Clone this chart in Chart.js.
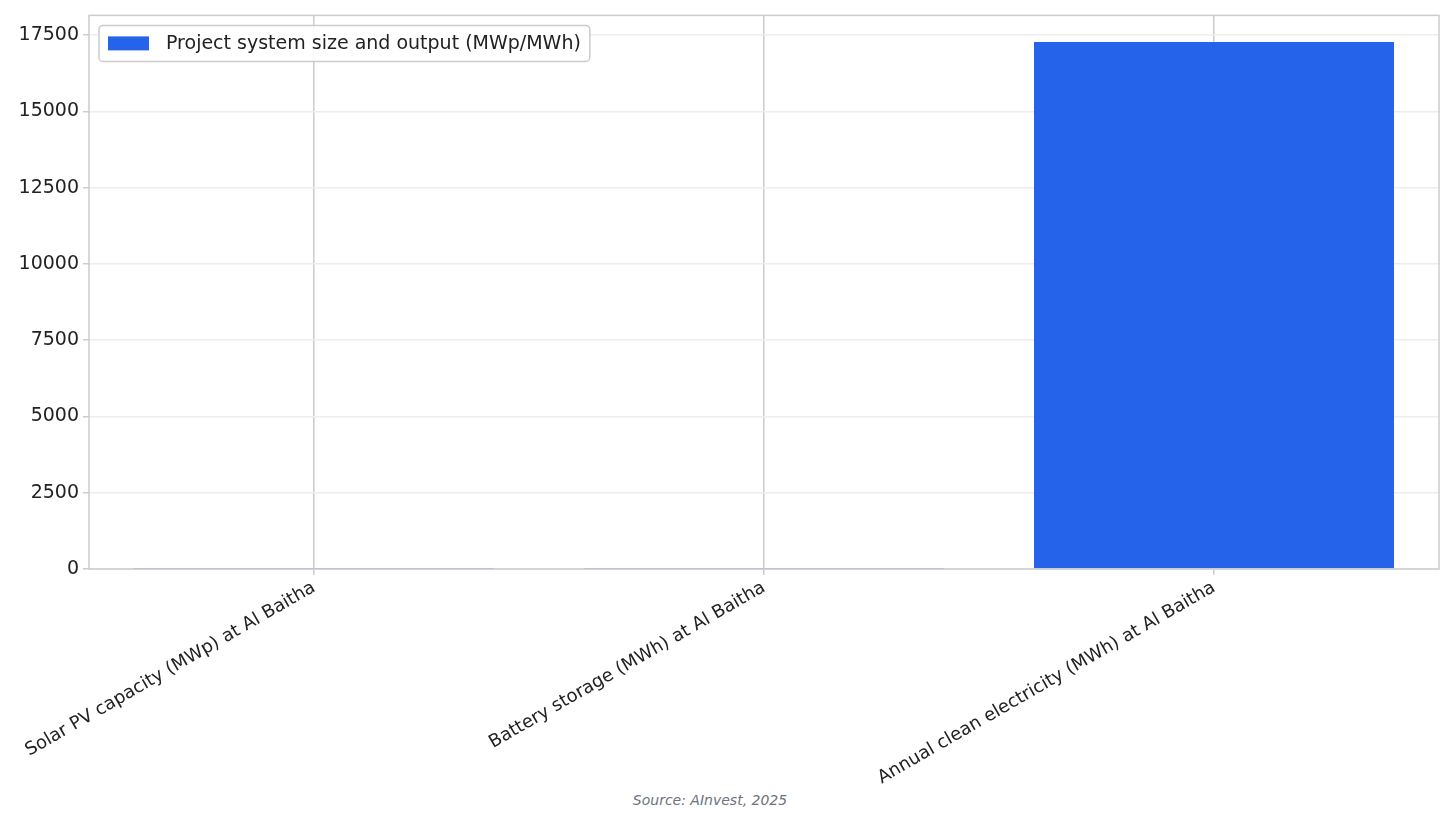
<!DOCTYPE html>
<html><head><meta charset="utf-8">
<script src="https://cdn.jsdelivr.net/npm/chart.js@4"></script>
<style>body{margin:0;background:#fff}#w{position:relative;width:1452px;height:824px}
#src{position:absolute;left:0;width:1420px;top:792px;text-align:center;font:italic 14px "DejaVu Sans";color:#6b7280}</style>
</head><body><div id="w"><canvas id="c" width="1452" height="790"></canvas><div id="src">Source: AInvest, 2025</div></div>
<script>
const categories=["Solar PV capacity (MWp) at Al Baitha","Battery storage (MWh) at Al Baitha","Annual clean electricity (MWh) at Al Baitha"];
const seriesName="Project system size and output (MWp/MWh)";
const values=[10,8,17280];
const yTicks=[0,2500,5000,7500,10000,12500,15000,17500];
const color="#2563eb";
const legendPlugin={id:'lg',afterDraw(ch){const c=ch.ctx,a=ch.chartArea;c.save();
c.font='19px "DejaVu Sans"';const tw=c.measureText(seriesName).width;
const x=a.left+10,y=a.top+10,w=tw+76,h=36;
c.fillStyle='rgba(255,255,255,0.9)';c.strokeStyle='#ccc';c.lineWidth=1.5;
c.beginPath();c.roundRect(x,y,w,h,4);c.fill();c.stroke();
c.fillStyle=color;c.fillRect(x+9,y+11,41,14);
c.fillStyle='#222';c.textBaseline='middle';c.fillText(seriesName,x+67,y+h/2+1);c.restore();}};
const borderPlugin={id:'bd',afterDraw(ch){const c=ch.ctx,a=ch.chartArea;c.save();c.strokeStyle='#ccc';c.lineWidth=1.5;c.strokeRect(a.left,a.top,a.right-a.left,a.bottom-a.top);c.restore();}};
new Chart(document.getElementById('c'),{type:'bar',
data:{labels:categories,datasets:[{label:seriesName,data:values,backgroundColor:color,barPercentage:0.8,categoryPercentage:1}]},
options:{responsive:false,animation:false,layout:{padding:{top:14,right:13,left:0}},
plugins:{legend:{display:false},tooltip:{enabled:false}},
scales:{x:{afterFit(s){s.height=221;},grid:{color:'#ccc',lineWidth:1.5,offset:false,drawTicks:true,tickLength:6},border:{display:false},
ticks:{color:'#222',font:{size:18,family:'DejaVu Sans'},maxRotation:30,minRotation:30,padding:2}},
y:{min:0,max:18150,afterFit(s){s.width=89;},afterBuildTicks(s){s.ticks=yTicks.map(v=>({value:v}));},
grid:{color:'#eeeeee',lineWidth:1.5,tickLength:6,tickColor:'#ccc'},border:{display:false},
ticks:{color:'#222',font:{size:19,family:'DejaVu Sans'},padding:4,callback:v=>String(v)}}}},
plugins:[legendPlugin,borderPlugin]});
</script></body></html>
